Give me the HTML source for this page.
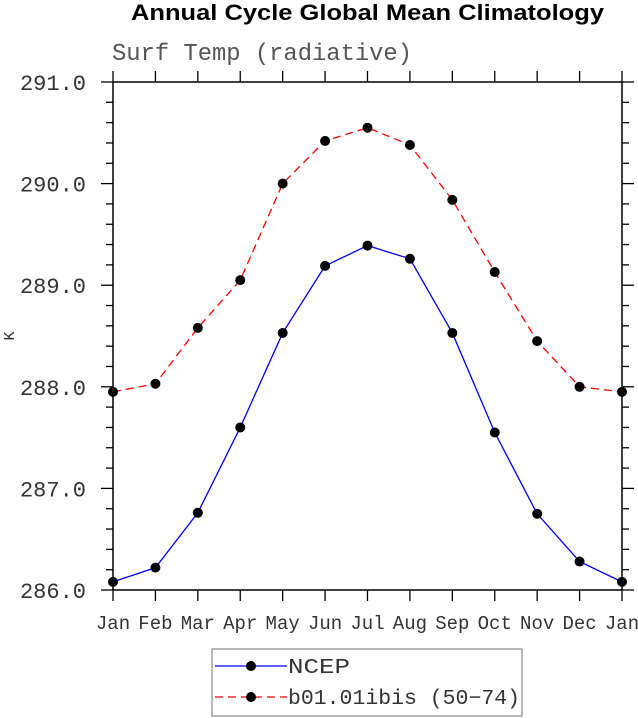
<!DOCTYPE html>
<html><head><meta charset="utf-8"><style>
body{margin:0;background:#fff;}
svg{display:block;}
text{font-family:"Liberation Mono",monospace;fill:#333;}
</style></head><body>
<svg id="chart" width="638" height="718">
<text x="131" y="20" textLength="473" lengthAdjust="spacingAndGlyphs" style="font-family:'Liberation Sans',sans-serif;font-weight:bold;font-size:22px;fill:#000">Annual Cycle Global Mean Climatology</text>
<text x="112" y="60" textLength="300" lengthAdjust="spacingAndGlyphs" style="font-size:24px;fill:#555">Surf Temp (radiative)</text>
<text x="14" y="336" text-anchor="middle" transform="rotate(-90 14 336)" style="font-size:15px">K</text>
<g id="axes"></g>
<g id="series"></g>
<g>
<rect x="212" y="649" width="310" height="67" fill="none" stroke="#888" stroke-width="1.2"/>
<g>
<line x1="215" y1="666" x2="287" y2="666" stroke="#0000ff" stroke-width="1.3"/>
<circle cx="251" cy="666" r="5" fill="#000"/>
<text x="288" y="673" textLength="62" lengthAdjust="spacingAndGlyphs" style="font-size:21px">NCEP</text></g>
<g>
<line x1="215" y1="697" x2="287" y2="697" stroke="#ff0000" stroke-width="1.3" stroke-dasharray="8,5"/>
<circle cx="251" cy="697" r="5" fill="#000"/>
<text x="288" y="704" textLength="232" lengthAdjust="spacingAndGlyphs" style="font-size:21px">b01.01ibis (50−74)</text></g>
</g>
</svg>
<script>
const months=["Jan","Feb","Mar","Apr","May","Jun","Jul","Aug","Sep","Oct","Nov","Dec","Jan"];
const ncep=[286.08,286.22,286.76,287.60,288.53,289.19,289.39,289.26,288.53,287.55,286.75,286.28,286.08];
const b01=[287.95,288.03,288.58,289.05,290.00,290.42,290.55,290.38,289.84,289.13,288.45,288.00,287.95];
const yTicks=["286.0","287.0","288.0","289.0","290.0","291.0"];
const NS="http://www.w3.org/2000/svg";
const L=113,R=622,T=82,B=590,ymin=286,ymax=291;
const xs=i=>L+(R-L)*i/(months.length-1);
const ys=v=>B-(v-ymin)/(ymax-ymin)*(B-T);
function mk(tag,attrs,parent){const e=document.createElementNS(NS,tag);for(const k in attrs)e.setAttribute(k,attrs[k]);parent.appendChild(e);return e;}
const ax=document.getElementById('axes');
const frame=mk('rect',{x:L,y:T,width:R-L,height:B-T,fill:'none',stroke:'#000','stroke-width':1.5},ax);


months.forEach((m,i)=>{const x=xs(i);
 mk('line',{x1:x,y1:B,x2:x,y2:B+11,stroke:'#000','stroke-width':1.3},ax);
 mk('line',{x1:x,y1:T,x2:x,y2:T-11,stroke:'#000','stroke-width':1.3},ax);
 const t=mk('text',{x:x,y:B+39,'text-anchor':'middle','font-size':19},ax);t.textContent=m;
 
 
});
for(let k=0;k<=25;k++){const v=ymin+k*0.2;const y=ys(v);const maj=k%5===0;const len=maj?12:7;
 mk('line',{x1:L,y1:y,x2:L-len,y2:y,stroke:'#000','stroke-width':1.3},ax);
 mk('line',{x1:R,y1:y,x2:R+len,y2:y,stroke:'#000','stroke-width':1.3},ax);
}
yTicks.forEach(s=>{const y=ys(parseFloat(s));
 const t=mk('text',{x:86,y:y+8,'text-anchor':'end','font-size':22},ax);t.textContent=s;
 
 
});
const sg=document.getElementById('series');
function draw(vals,color,dash,name){
 const g=mk('g',{},sg);
 
 
 const p=mk('polyline',{points:vals.map((v,i)=>xs(i)+','+ys(v)).join(' '),fill:'none',stroke:color,'stroke-width':1.3},g);
 if(dash)p.setAttribute('stroke-dasharray',dash);
 vals.forEach((v,i)=>{const c=mk('circle',{cx:xs(i),cy:ys(v),r:5,fill:'#000'},g);
  
  });
}
draw(ncep,'#0000ff',null,'series-ncep');
draw(b01,'#ff0000','8,5','series-b01');
</script>
</body></html>
